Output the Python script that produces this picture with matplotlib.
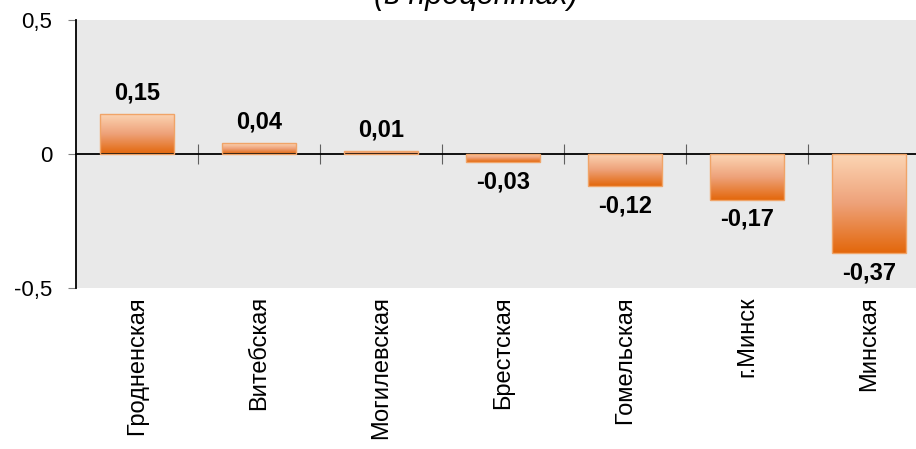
import numpy as np
import matplotlib
matplotlib.use("Agg")
import matplotlib.pyplot as plt
from matplotlib.colors import LinearSegmentedColormap
from matplotlib.transforms import blended_transform_factory

plt.rcParams['font.family'] = ['Liberation Sans', 'DejaVu Sans']

# данные
regions = ['Гродненская', 'Витебская', 'Могилевская', 'Брестская',
           'Гомельская', 'г.Минск', 'Минская']
values = [0.15, 0.04, 0.01, -0.03, -0.12, -0.17, -0.37]
labels = ['0,15', '0,04', '0,01', '-0,03', '-0,12', '-0,17', '-0,37']
yticks = [-0.5, 0, 0.5]
ytick_labels = ['-0,5', '0', '0,5']

fig = plt.figure(figsize=(9.16, 4.49), dpi=100)
ax = fig.add_axes([76 / 916, (449 - 288) / 449, 854 / 916, 268 / 449])
ax.set_facecolor('#e9e9e9')

x = np.arange(len(regions))
bars = ax.bar(x, values, width=0.6, color='none', edgecolor='#f0a468',
              linewidth=1.0, zorder=3)

# градиентная заливка столбцов
cmap = LinearSegmentedColormap.from_list('grad', ['#e3670b', '#eea27a', '#fcd6b5'])
grad = np.linspace(0, 1, 256).reshape(-1, 1)
for b in bars:
    x0 = b.get_x()
    x1 = x0 + b.get_width()
    y0 = min(b.get_y(), b.get_y() + b.get_height())
    y1 = max(b.get_y(), b.get_y() + b.get_height())
    im = ax.imshow(grad, cmap=cmap, origin='lower', aspect='auto',
                   extent=(x0, x1, y0, y1), zorder=2)
    im.set_clip_path(b)

for xi, v, lab in zip(x, values, labels):
    if v >= 0:
        ax.annotate(lab, (xi, v), xytext=(0, 7), textcoords='offset points',
                    ha='center', va='bottom', fontsize=17, fontweight='bold')
    else:
        ax.annotate(lab, (xi, v), xytext=(0, -6), textcoords='offset points',
                    ha='center', va='top', fontsize=17, fontweight='bold')

ax.set_xlim(-0.5, len(regions) - 0.5)
ax.set_ylim(-0.5, 0.5)
ax.set_yticks(yticks)
ax.set_yticklabels(ytick_labels, fontsize=16)
ax.tick_params(axis='y', length=6, color='#808080', pad=11)

ax.spines['bottom'].set_position(('data', 0))
ax.spines['bottom'].set_linewidth(1.3)
ax.spines['left'].set_linewidth(1.3)
ax.spines['top'].set_visible(False)
ax.spines['right'].set_visible(False)
ax.set_xticks(np.arange(0.5, len(regions) - 0.5, 1))
ax.set_xticklabels([])
ax.tick_params(axis='x', direction='inout', length=14, color='#606060')

trans = blended_transform_factory(ax.transData, ax.transAxes)
for xi, r in zip(x, regions):
    ax.text(xi, -0.03, r, transform=trans, rotation=90, ha='center', va='top',
            fontsize=17)

fig.text(476 / 916, 0.991, '(в процентах)', ha='center', va='baseline',
         fontsize=22, style='italic')

fig.savefig('out.png', dpi=100)
